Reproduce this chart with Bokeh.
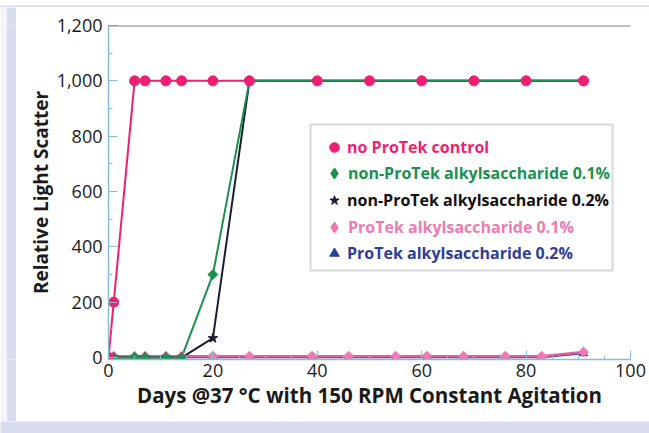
from bokeh.plotting import figure
from bokeh.models import (Range1d, SingleIntervalTicker, NumeralTickFormatter, Span,
                          Legend, LegendItem, BoxAnnotation)
from bokeh.layouts import row, column
from bokeh.embed import file_html
from bokeh.resources import INLINE
import math

# ---------------- data ----------------
days_ctrl = [0, 1, 5, 7, 11, 14, 20, 27, 40, 50, 60, 70, 80, 91]
ctrl_vals = [0, 200, 1000, 1000, 1000, 1000, 1000, 1000, 1000, 1000, 1000, 1000, 1000, 1000]

days_np = [0, 1, 5, 7, 11, 14, 20, 27, 91]
np01_vals = [0, 0, 0, 0, 0, 0, 300, 1000, 1000]
np02_vals = [0, 0, 0, 0, 0, 0, 70, 1000, 1000]

days_pt = [0, 1, 5, 7, 11, 14, 20, 27, 39, 46, 55, 61, 68, 76, 83, 91]
pt01_vals = [5, 5, 5, 5, 5, 5, 5, 5, 5, 5, 5, 5, 5, 5, 5, 20]
pt02_vals = [0, 0, 0, 0, 0, 0, 0, 0, 0, 0, 0, 0, 0, 0, 0, 15]

labels = ["no ProTek control",
          "non-ProTek alkylsaccharide 0.1%",
          "non-ProTek alkylsaccharide 0.2%",
          "ProTek alkylsaccharide 0.1%",
          "ProTek alkylsaccharide 0.2%"]

x_title = "Days @37 \u00b0C with 150 RPM Constant Agitation"
y_title = "Relative Light Scatter"

# ---------------- styles ----------------
LAV = "#d9dbee"
LIGHT = "#f3f3f9"
C_CTRL = "#ee1f73"
C_G = "#1a9150"
C_K = "#1c1c33"
C_P = "#ef79b0"
C_PL = "#e85c9e"
C_B = "#2d3e97"
AX = "#86bfd3"
FONT = "Open Sans"

p = figure(width=633, height=414, x_range=Range1d(0, 100), y_range=Range1d(-7, 1200),
           output_backend="svg", toolbar_location=None,
           min_border_left=92, min_border_right=19, min_border_top=18, min_border_bottom=62)
p.outline_line_color = None
p.grid.visible = False
p.background_fill_color = "white"
p.border_fill_color = "white"

for ax in (p.xaxis[0], p.yaxis[0]):
    ax.axis_line_color = AX
    ax.axis_line_width = 1.5
    ax.major_tick_line_color = AX
    ax.minor_tick_line_color = AX
    ax.major_tick_in = 9
    ax.major_tick_out = 0
    ax.minor_tick_in = 4
    ax.minor_tick_out = 0
    ax.major_label_text_font = FONT
    ax.major_label_text_font_size = "18px"
    ax.major_label_text_color = "#1a1a1a"
    ax.axis_label_text_font = FONT
    ax.axis_label_text_font_style = "bold"
    ax.axis_label_text_color = "#1a1a1a"

p.xaxis.axis_label_text_font_size = "20.5px"
p.yaxis.axis_label_text_font_size = "19px"
p.xaxis.ticker = SingleIntervalTicker(interval=20, num_minor_ticks=4)
p.yaxis.ticker = SingleIntervalTicker(interval=200, num_minor_ticks=2)
p.yaxis.formatter = NumeralTickFormatter(format="0,0")
p.xaxis.axis_label = x_title
p.yaxis.axis_label = y_title
p.xaxis.major_label_standoff = 4
p.yaxis.major_label_standoff = 6
p.xaxis.axis_label_standoff = 1
p.yaxis.axis_label_standoff = 0

p.add_layout(Span(location=1200, dimension="width", line_color="#7f7f7f", line_width=2))

# lines
p.line(days_pt, pt02_vals, line_color=C_B, line_width=1.5)
p.line(days_pt, pt01_vals, line_color=C_PL, line_width=2.5)
p.line(days_ctrl, ctrl_vals, line_color=C_CTRL, line_width=2)
p.line(days_np, np02_vals, line_color=C_K, line_width=2)
p.line(days_np, np01_vals, line_color=C_G, line_width=2)

# markers
rot = math.pi / 4
r_b = p.scatter(days_pt, pt02_vals, marker="triangle", size=8, color=C_B)
r_p = p.scatter(days_pt, pt01_vals, marker="square", angle=rot, size=7, color=C_P)
r_k = p.scatter(days_np, np02_vals, marker="star", size=10, color=C_K)
r_g = p.scatter(days_np, np01_vals, marker="square", angle=rot, size=7, color=C_G)
r_c = p.scatter(days_ctrl, ctrl_vals, marker="circle", size=10, color=C_CTRL)

# legend-only swatches for the diamond series (no visible data point)
nan = float("nan")
sw_g = p.scatter(x=[nan], y=[nan], marker="diamond", color=C_G)
sw_p = p.scatter(x=[nan], y=[nan], marker="diamond", color=C_P)

# legend box
p.add_layout(BoxAnnotation(left=294, right=596, top=117, bottom=263,
                           left_units="canvas", right_units="canvas",
                           top_units="canvas", bottom_units="canvas",
                           fill_color="white", fill_alpha=1.0,
                           line_color="#7f7f7f", line_width=2))

# (renderer, label, colour, x, y, glyph size)
leg_specs = [(r_c, labels[0], C_CTRL, 214, 200, 24),
             (sw_g, labels[1], C_G, 212, 172, 28),
             (r_k, labels[2], "#111111", 214, 147, 24),
             (sw_p, labels[3], C_P, 212, 118, 28),
             (r_b, labels[4], C_B, 214, 94, 24)]
for rend, lab, col, lx, ly, gs in leg_specs:
    lg = Legend(items=[LegendItem(label=lab, renderers=[rend])], location=(lx, ly),
                border_line_alpha=0, background_fill_alpha=0, padding=0, margin=0,
                spacing=0, glyph_width=gs, glyph_height=gs,
                label_standoff=1 if gs == 24 else 0,
                label_text_font=FONT, label_text_font_style="bold",
                label_text_font_size="16px", label_text_color=col)
    p.add_layout(lg)

def strip(w, h, c):
    s = figure(width=w, height=h, output_backend="svg", toolbar_location=None,
               x_axis_type=None, y_axis_type=None, min_border=0)
    s.outline_line_color = None
    s.background_fill_color = c
    s.border_fill_color = c
    return s

layout = column(strip(649, 7, LAV),
                row(strip(6, 414, LIGHT), strip(10, 414, LAV), p),
                strip(649, 12, LAV))

open("out.html", "w").write(file_html(layout, INLINE))
